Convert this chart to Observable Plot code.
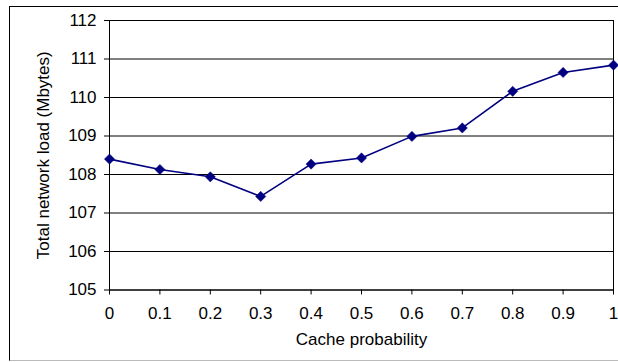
<!DOCTYPE html>
<html>
<head>
<meta charset="utf-8">
<script src="https://cdn.jsdelivr.net/npm/d3@7"></script>
<script src="https://cdn.jsdelivr.net/npm/@observablehq/plot@0.6"></script>
<style>
  html, body { margin: 0; padding: 0; background: #fff; }
  #wrap { position: relative; width: 618px; height: 362px; overflow: hidden; font-family: "Liberation Sans", Arial, sans-serif; }
  #border { position: absolute; left: 9px; top: 6px; width: 620px; height: 353px; border-left: 1px solid #000; border-top: 1px solid #000; border-bottom: 1px solid #bbb; }
  #chart { position: absolute; left: 0; top: 0; }
  #chart svg text { font-family: "Liberation Sans", Arial, sans-serif !important; fill: #000; }
</style>
</head>
<body>
<div id="wrap"><div id="border"></div><div id="chart"></div></div>
<script>
const cacheProbability = [0, 0.1, 0.2, 0.3, 0.4, 0.5, 0.6, 0.7, 0.8, 0.9, 1];
const networkLoad = [108.40, 108.13, 107.94, 107.43, 108.27, 108.43, 108.99, 109.21, 110.16, 110.65, 110.84];
const xTicks = [0, 0.1, 0.2, 0.3, 0.4, 0.5, 0.6, 0.7, 0.8, 0.9, 1];
const yTicks = [105, 106, 107, 108, 109, 110, 111, 112];

const data = cacheProbability.map((p, i) => ({p, load: networkLoad[i]}));

const chart = Plot.plot({
  width: 618,
  height: 362,
  marginLeft: 109,
  marginRight: 5,
  marginTop: 20,
  marginBottom: 72.5,
  style: {fontFamily: "'Liberation Sans', Arial, sans-serif", fontSize: "17px", color: "#000", background: "transparent"},
  x: {domain: [0, 1]},
  y: {domain: [105, 112]},
  marks: [
    Plot.ruleY(yTicks, {stroke: "#000", strokeWidth: 1}),
    Plot.frame({stroke: "#000", strokeWidth: 1}),
    Plot.axisY(yTicks, {tickSize: 5, tickPadding: 8, label: "Total network load (Mbytes)", labelAnchor: "center", labelOffset: 73, labelArrow: "none", fontSize: 17}),
    Plot.axisX(xTicks, {tickSize: 5, tickPadding: 12, tickFormat: d => String(d), label: "Cache probability", labelAnchor: "center", labelOffset: 55, labelArrow: "none", fontSize: 17}),
    Plot.line(data, {x: "p", y: "load", stroke: "#000080", strokeWidth: 1.6}),
    Plot.dot(data, {x: "p", y: "load", symbol: "diamond2", r: 4.6, fill: "#000080", stroke: "#000080", strokeWidth: 0.5})
  ]
});
document.getElementById("chart").appendChild(chart);
</script>
</body>
</html>
